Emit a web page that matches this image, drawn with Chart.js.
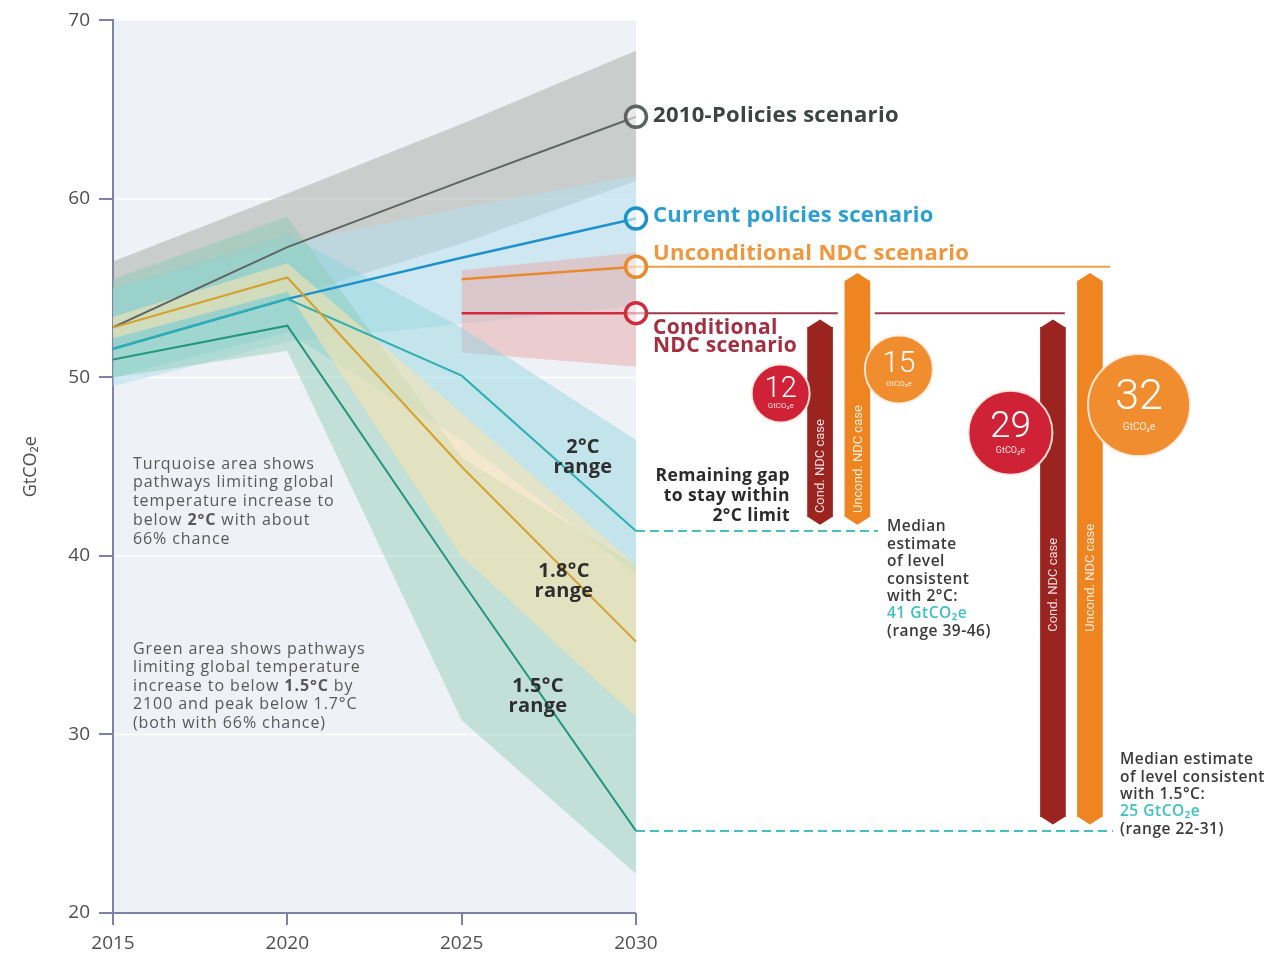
<!DOCTYPE html>
<html>
<head>
<meta charset="utf-8">
<script src="https://cdn.jsdelivr.net/npm/chart.js@4.4.1/dist/chart.umd.min.js"></script>
<style>
  html, body { margin: 0; padding: 0; background: #fff; }
  canvas { display: block; }
</style>
</head>
<body>
<canvas id="gapChart" width="1274" height="970"></canvas>
<script>
// emissions gap chart, GtCO2e

const years = [2015, 2020, 2025, 2030];
const xTicks = [2015, 2020, 2025, 2030];
const yTicks = [20, 30, 40, 50, 60, 70];

const policies2010 = [52.8, 57.3, 61.0, 64.6];
const policies2010Hi = [56.5, 60.3, 64.2, 68.3];
const policies2010Lo = [51.5, 54.5, 57.5, 61.0];

const currentPolicies = [51.6, 54.4, 56.7, 58.9];
const currentHi = [55.0, 57.5, 59.5, 61.3];
const currentLo = [49.5, 52.0, 53.0, 54.0];

const ndcYears = [2025, 2030];
const uncondNdc = [55.5, 56.2];
const condNdc = [53.6, 53.6];
const ndcHi = [56.0, 57.0];
const ndcLo = [51.4, 50.6];

const path2C = [51.6, 54.4, 50.1, 41.4];
const path2CHi = [55.0, 58.0, 52.8, 46.5];
const path2CLo = [50.0, 52.5, 46.5, 39.0];

const path18C = [52.8, 55.6, 45.0, 35.2];
const path18CHi = [53.4, 56.4, 48.0, 39.5];
const path18CLo = [52.2, 54.8, 40.0, 31.0];

const path15C = [51.0, 52.9, 38.6, 24.6];
const path15CHi = [55.5, 59.0, 45.5, 39.5];
const path15CLo = [50.0, 51.5, 30.8, 22.2];

const median2C = 41.4;
const median15C = 24.6;

const gapValues = ['12', '15', '29', '32'];
const gapCases = ['Cond. NDC case', 'Uncond. NDC case', 'Cond. NDC case', 'Uncond. NDC case'];
const gapTops = [condNdc[1], uncondNdc[1], condNdc[1], uncondNdc[1]];
const gapBottoms = [median2C, median2C, median15C, median15C];

// layout (x in years beyond 2030, where the annotation column sits)
const barXs = [2035.28, 2036.35, 2041.96, 2043.02];
const barColors = ['#9c2420', '#ef8521', '#9c2420', '#ef8521'];
const barLabelStart = [42.4, 42.4, 35.75, 35.75];
const bubbleSpots = [
  { x: 2034.15, y: 49.1, r: 29, font: 29, sub: 8 },
  { x: 2037.54, y: 50.45, r: 34, font: 30, sub: 8 },
  { x: 2040.74, y: 46.9, r: 42, font: 37, sub: 9 },
  { x: 2044.43, y: 48.45, r: 51, font: 43, sub: 10 }
];
const bubbleColors = ['#cf2236', '#f08d2e', '#cf2236', '#f08d2e'];
const condExtEnd = 2042.3, condGap = [2035.79, 2036.85];
const uncondExtEnd = 2043.6;
const median2CEnd = 2036.94, median15CEnd = 2043.68;

const noteTurquoise = ['Turquoise area shows', 'pathways limiting global', 'temperature increase to', 'below **2°C** with about', '66% chance'];
const noteGreen = ['Green area shows pathways', 'limiting global temperature', 'increase to below **1.5°C** by', '2100 and peak below 1.7°C', '(both with 66% chance)'];
const note2C = ['Median', 'estimate', 'of level', 'consistent', 'with 2°C:', '41 GtCO₂e', '(range 39-46)'];
const note15C = ['Median estimate', 'of level consistent', 'with 1.5°C:', '25 GtCO₂e', '(range 22-31)'];

const BAR_PAD = 0.8;
const FONT = "'Open Sans'";

Chart.defaults.font.family = FONT;

function pts(xs, ys) {
  return xs.map((x, i) => ({ x: x, y: ys[i] }));
}

// upper edge + lower edge filled back to it; higher order is painted first
function band(hi, lo, color, order, xs) {
  xs = xs || years;
  return [
    { data: pts(xs, hi), borderWidth: 0, pointRadius: 0, fill: false, order: order },
    { data: pts(xs, lo), borderWidth: 0, pointRadius: 0, fill: '-1', backgroundColor: color, order: order }
  ];
}

function scenario(xs, ys, color, width, ring) {
  return {
    data: pts(xs, ys),
    borderColor: color,
    borderWidth: width,
    pointRadius: ring ? ys.map((v, i) => i === ys.length - 1 ? 10.5 : 0) : 0,
    pointBorderWidth: 3.5,
    pointBorderColor: color,
    pointBackgroundColor: 'rgba(255,255,255,0.55)',
    fill: false,
    order: 2
  };
}

const datasets = [].concat(
  band(policies2010Hi, policies2010Lo, 'rgba(150,156,148,0.42)', 16),
  band(currentHi, currentLo, 'rgba(180,222,236,0.55)', 15),
  band(ndcHi, ndcLo, 'rgba(232,170,170,0.5)', 14, ndcYears),
  band(path2CHi, path2CLo, 'rgba(140,212,222,0.45)', 13),
  band(path15CHi, path15CLo, 'rgba(140,205,180,0.45)', 12),
  band(path18CHi, path18CLo, 'rgba(246,226,178,0.6)', 11),
  [
    scenario(years, path15C, '#23977c', 2, false),
    scenario(years, path18C, '#d3a12c', 2, false),
    scenario(years, path2C, '#2eb0b2', 2, false),
    scenario(years, policies2010, '#5d6461', 2, true),
    scenario(years, currentPolicies, '#1e93cb', 2.5, true),
    scenario(ndcYears, uncondNdc, '#e98a2e', 2.5, true),
    scenario(ndcYears, condNdc, '#d02c3c', 2.5, true),
    {
      data: [{ x: 2030, y: uncondNdc[1] }, { x: uncondExtEnd, y: uncondNdc[1] }],
      borderColor: '#f09c4a', borderWidth: 2, pointRadius: 0, fill: false, order: 4
    },
    {
      data: [{ x: 2030, y: condNdc[1] }, { x: condGap[0], y: condNdc[1] }, { x: (condGap[0] + condGap[1]) / 2, y: null },
             { x: condGap[1], y: condNdc[1] }, { x: condExtEnd, y: condNdc[1] }],
      borderColor: '#9b3a4a', borderWidth: 2, pointRadius: 0, fill: false, spanGaps: false, order: 4
    },
    {
      data: [{ x: 2030, y: median2C }, { x: median2CEnd, y: median2C }],
      borderColor: '#45bfc0', borderWidth: 2, borderDash: [9, 5], pointRadius: 0, fill: false, order: 4
    },
    {
      data: [{ x: 2030, y: median15C }, { x: median15CEnd, y: median15C }],
      borderColor: '#45bfc0', borderWidth: 2, borderDash: [9, 5], pointRadius: 0, fill: false, order: 4
    },
    {
      type: 'bar',
      data: barXs.map((x, i) => ({ x: x, y: [gapBottoms[i] + BAR_PAD, gapTops[i] - BAR_PAD] })),
      backgroundColor: barColors,
      barThickness: 25,
      borderWidth: 0,
      order: 1
    },
    {
      type: 'bubble',
      data: bubbleSpots.map(b => ({ x: b.x, y: b.y, r: b.r })),
      backgroundColor: bubbleColors,
      borderColor: 'rgba(255,240,230,0.9)',
      borderWidth: 2,
      order: 0
    }
  ]
);

function richText(ctx, str, x, y, size, color, weight, align, spacing) {
  const parts = str.split('**');
  ctx.letterSpacing = (spacing || 0) + 'px';
  let total = 0;
  parts.forEach((p, i) => {
    ctx.font = (i % 2 ? 'bold ' : weight + ' ') + size + 'px ' + FONT;
    total += ctx.measureText(p).width;
  });
  let cx = align === 'right' ? x - total : align === 'center' ? x - total / 2 : x;
  ctx.textAlign = 'left';
  ctx.fillStyle = color;
  parts.forEach((p, i) => {
    ctx.font = (i % 2 ? 'bold ' : weight + ' ') + size + 'px ' + FONT;
    ctx.fillText(p, cx, y);
    cx += ctx.measureText(p).width;
  });
  ctx.letterSpacing = '0px';
}

const plotBg = {
  id: 'plotBg',
  beforeDraw(chart) {
    const { ctx, scales: { x, y } } = chart;
    const x0 = x.getPixelForValue(2015), x1 = x.getPixelForValue(2030);
    ctx.save();
    ctx.fillStyle = '#eef1f5';
    ctx.fillRect(x0, y.top, x1 - x0, y.bottom - y.top);
    ctx.strokeStyle = 'rgba(255,255,255,0.95)';
    ctx.lineWidth = 1.5;
    yTicks.slice(1, -1).forEach(v => {
      const py = y.getPixelForValue(v);
      ctx.beginPath(); ctx.moveTo(x0, py); ctx.lineTo(x1, py); ctx.stroke();
    });
    ctx.restore();
  },
  afterDatasetsDraw(chart) {
    const { ctx, scales: { x, y } } = chart;
    ctx.save();
    // x axis line only spans the years
    ctx.strokeStyle = '#7e82a8';
    ctx.lineWidth = 2;
    ctx.beginPath();
    ctx.moveTo(x.getPixelForValue(2015), y.bottom);
    ctx.lineTo(x.getPixelForValue(2030), y.bottom);
    ctx.stroke();

    // pointed ends + vertical captions on gap bars
    const barMeta = chart.getDatasetMeta(datasets.length - 2);
    barMeta.data.forEach((el, i) => {
      const p = el.getProps(['x', 'y', 'base', 'width'], true);
      const top = Math.min(p.y, p.base), bot = Math.max(p.y, p.base), hw = p.width / 2;
      ctx.fillStyle = barColors[i];
      ctx.beginPath();
      ctx.moveTo(p.x - hw, top); ctx.lineTo(p.x, top - 8); ctx.lineTo(p.x + hw, top); ctx.closePath(); ctx.fill();
      ctx.beginPath();
      ctx.moveTo(p.x - hw, bot); ctx.lineTo(p.x, bot + 8); ctx.lineTo(p.x + hw, bot); ctx.closePath(); ctx.fill();
      ctx.save();
      ctx.translate(p.x, y.getPixelForValue(barLabelStart[i]));
      ctx.rotate(-Math.PI / 2);
      ctx.font = '13px Roboto';
      ctx.fillStyle = 'rgba(255,255,255,0.85)';
      ctx.textAlign = 'left';
      ctx.textBaseline = 'middle';
      ctx.fillText(gapCases[i], 0, 1);
      ctx.restore();
    });

    // numbers in the gap bubbles
    const bubMeta = chart.getDatasetMeta(datasets.length - 1);
    bubMeta.data.forEach((el, i) => {
      const b = bubbleSpots[i];
      ctx.fillStyle = '#fff';
      ctx.textAlign = 'center';
      ctx.textBaseline = 'middle';
      ctx.font = '300 ' + b.font + 'px Roboto';
      ctx.fillText(gapValues[i], el.x, el.y - b.r * 0.13);
      ctx.font = b.sub + 'px Roboto';
      ctx.fillStyle = 'rgba(255,255,255,0.85)';
      ctx.fillText('GtCO₂e', el.x, el.y + b.r * 0.43);
    });
    ctx.restore();
  },
  afterDraw(chart) {
    const { ctx } = chart;
    ctx.save();
    ctx.textBaseline = 'middle';

    richText(ctx, '2010-Policies scenario', 653, 116, 22, '#3d4442', 'bold', 'left', 0.3);
    richText(ctx, 'Current policies scenario', 653, 216, 22, '#2a9fd2', 'bold', 'left', 0.3);
    richText(ctx, 'Unconditional NDC scenario', 653, 254, 22, '#f0963c', 'bold', 'left', 0.3);
    richText(ctx, 'Conditional', 653, 328, 21, '#a32e40', 'bold', 'left', 0.3);
    richText(ctx, 'NDC scenario', 653, 346, 21, '#a32e40', 'bold', 'left', 0.3);

    const ranges = [['2°C', 583, 447], ['1.8°C', 564, 571], ['1.5°C', 538, 686]];
    ranges.forEach(r => {
      richText(ctx, r[0], r[1], r[2], 20, '#2e2e2e', 'bold', 'center', 0.3);
      richText(ctx, 'range', r[1], r[2] + 20, 20, '#2e2e2e', 'bold', 'center', 0.3);
    });

    ['Remaining gap', 'to stay within', '2°C limit'].forEach((t, i) => {
      richText(ctx, t, 790, 476 + i * 20, 17.5, '#2b2b2b', 'bold', 'right', 0.4);
    });

    noteTurquoise.forEach((t, i) => richText(ctx, t, 133, 464 + i * 18.8, 16, '#585858', 'normal', 'left', 0.9));
    noteGreen.forEach((t, i) => richText(ctx, t, 133, 649 + i * 18.6, 16, '#585858', 'normal', 'left', 0.9));

    note2C.forEach((t, i) => richText(ctx, t, 887, 527 + i * 17.4, 15.5, i === 5 ? '#3fc1c2' : '#3a3a3a', '600', 'left', 0.5));
    note15C.forEach((t, i) => richText(ctx, t, 1120, 760 + i * 17.3, 15.5, i === 3 ? '#3fc1c2' : '#3a3a3a', '600', 'left', 0.5));
    ctx.restore();
  }
};

new Chart(document.getElementById('gapChart'), {
  type: 'line',
  data: { datasets: datasets },
  plugins: [plotBg],
  options: {
    responsive: false,
    animation: false,
    devicePixelRatio: 1,
    layout: { autoPadding: false, padding: { top: 19, right: 0, bottom: 0, left: 0 } },
    plugins: {
      legend: { display: false },
      tooltip: { enabled: false }
    },
    scales: {
      x: {
        type: 'linear',
        min: 2015,
        max: 2048.3,
        offset: false,
        afterBuildTicks: s => { s.ticks = xTicks.map(v => ({ value: v })); },
        afterFit: s => { s.height = 57; },
        border: { display: false },
        grid: { offset: false, drawOnChartArea: false, drawTicks: true, tickLength: 12, color: '#7e82a8', lineWidth: 2 },
        ticks: { color: '#4f4f4f', font: { size: 19 }, padding: 7, maxRotation: 0, autoSkip: false, callback: v => String(v) }
      },
      y: {
        min: 20,
        max: 70,
        afterBuildTicks: s => { s.ticks = yTicks.map(v => ({ value: v })); },
        afterFit: s => { s.width = 113; },
        border: { display: true, color: '#7e82a8', width: 2 },
        grid: { drawOnChartArea: false, tickLength: 14, color: '#7e82a8', lineWidth: 2 },
        ticks: { color: '#4f4f4f', font: { size: 19 }, padding: 9 },
        title: { display: true, text: 'GtCO₂e', color: '#4f4f4f', font: { size: 18 }, padding: { top: 20, bottom: 0 } }
      }
    }
  }
});
</script>
</body>
</html>
